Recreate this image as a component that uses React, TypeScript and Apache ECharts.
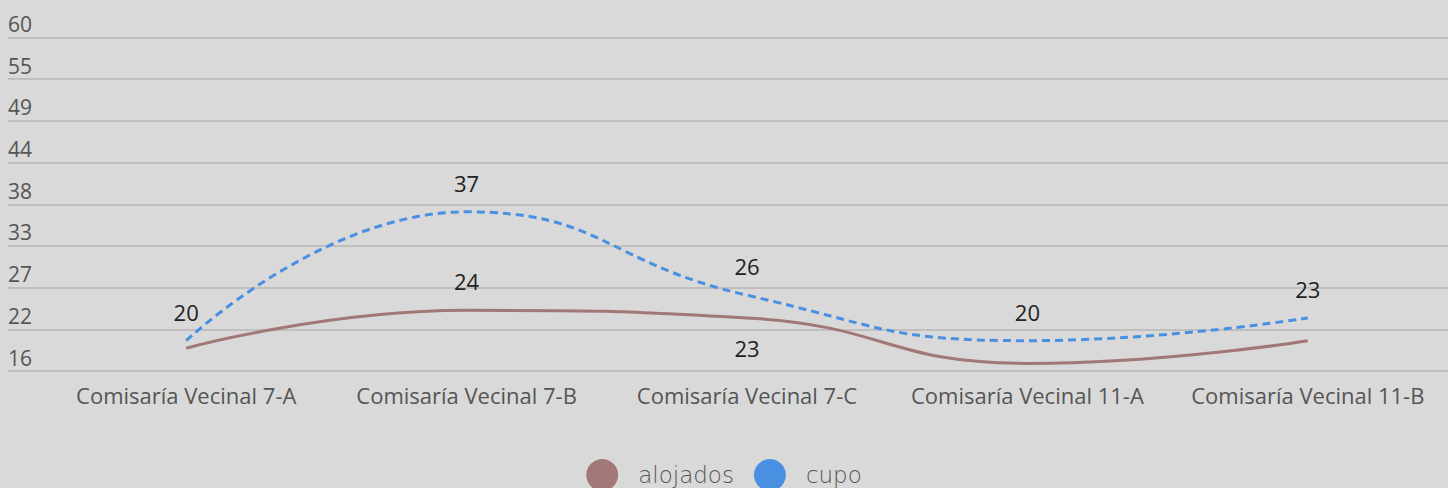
import React, { useEffect, useRef } from "react";
import * as echarts from "echarts";

const categories = [
  "Comisaría Vecinal 7-A",
  "Comisaría Vecinal 7-B",
  "Comisaría Vecinal 7-C",
  "Comisaría Vecinal 11-A",
  "Comisaría Vecinal 11-B",
];
const alojados = [19, 24, 23, 17, 20];
const cupo = [20, 37, 26, 20, 23];
// which alojados labels are visible, and where
const alojadosLabelPos: (string | null)[] = [null, "top", "bottom", null, null];
const yMin = 16;
const yMax = 60;
const yStep = 5.5;

export default function App() {
  const ref = useRef<HTMLDivElement>(null);
  useEffect(() => {
    if (!ref.current) return;
    const chart = echarts.init(ref.current, null, { renderer: "svg" });
    const font = "'Open Sans', 'Noto Sans', sans-serif";
    const labelStyle = {
      color: "#222",
      fontSize: 22,
      fontFamily: font,
      distance: 18,
    };
    chart.setOption({
      animation: false,
      backgroundColor: "#d9d9d9",
      grid: [
        { left: 8, right: 0, top: 37.5, bottom: 117 },
        { left: 46, right: -7, top: 37.5, bottom: 117 },
      ],
      legend: {
        data: ["alojados", "cupo"],
        top: 454,
        left: "center",
        icon: "circle",
        itemWidth: 32,
        itemHeight: 32,
        itemGap: 20,
        textStyle: {
          color: "#555",
          fontSize: 23,
          fontFamily: "'DejaVu Sans', sans-serif",
          fontWeight: 200,
          padding: [0, 0, 0, 15],
        },
      },
      xAxis: [
        {
          gridIndex: 0,
          type: "category",
          data: categories,
          show: false,
        },
        {
          gridIndex: 1,
          type: "category",
          data: categories,
          boundaryGap: true,
          axisLine: { show: false },
          axisTick: { show: false },
          axisLabel: {
            interval: 0,
            hideOverlap: false,
            color: "#555",
            fontSize: 22,
            fontFamily: font,
            margin: 13,
          },
        },
      ],
      yAxis: [
        {
          gridIndex: 0,
          type: "value",
          min: yMin,
          max: yMax,
          interval: yStep,
          axisLine: { show: false },
          axisTick: { show: false },
          splitLine: { lineStyle: { color: "#bfbfbf", width: 2 } },
          axisLabel: {
            inside: true,
            color: "#555",
            fontSize: 21,
            fontFamily: font,
            verticalAlign: "bottom",
            padding: [0, 0, 3, 0],
            margin: 0,
            formatter: (v: number) => String(Math.round(v)),
          },
        },
        {
          gridIndex: 1,
          type: "value",
          min: yMin,
          max: yMax,
          interval: yStep,
          show: false,
          splitLine: { show: false },
        },
      ],
      series: [
        {
          name: "alojados",
          type: "line",
          xAxisIndex: 1,
          yAxisIndex: 1,
          smooth: true,
          symbol: "circle",
          symbolSize: 0,
          color: "#a27876",
          lineStyle: { width: 3, color: "#a27876" },
          data: alojados.map((v, i) => ({
            value: v,
            label: alojadosLabelPos[i]
              ? { show: true, position: alojadosLabelPos[i], ...labelStyle, distance: alojadosLabelPos[i] === "bottom" ? 19 : 18 }
              : { show: false },
          })),
        },
        {
          name: "cupo",
          type: "line",
          xAxisIndex: 1,
          yAxisIndex: 1,
          smooth: true,
          symbol: "circle",
          symbolSize: 0,
          color: "#4a90e2",
          lineStyle: { width: 3, color: "#4a90e2", type: [8, 5] },
          label: { show: true, position: "top", ...labelStyle },
          data: cupo,
        },
      ],
    });
    return () => chart.dispose();
  }, []);
  return (
    <div
      ref={ref}
      style={{ position: "fixed", left: 0, top: 0, width: 1448, height: 488 }}
    />
  );
}
